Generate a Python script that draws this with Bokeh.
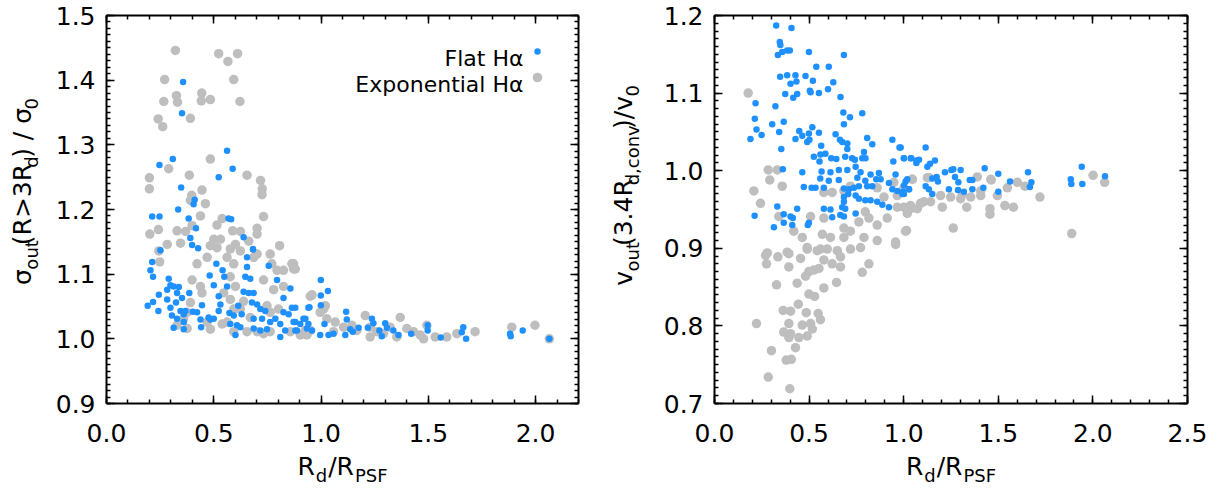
import math
from bokeh.plotting import figure
from bokeh.models import (Range1d, LinearAxis, Label, Legend, LegendItem,
                          FixedTicker, PrintfTickFormatter, CustomJSTickFormatter)
from bokeh.layouts import row, column
from bokeh.embed import file_html
from bokeh.resources import INLINE
from bokeh.core.properties import value

FONT = "DejaVu Sans"
BLUE = "#1E90FF"
GREY = "#BEBEBE"

# ---------------- data: left panel (sigma_out / sigma_0) ----------------
left_flat_x = [
    0.357, 0.352, 0.562, 0.309, 0.247, 0.588, 0.523, 0.348, 0.411, 0.406, 0.334, 0.213,
    0.247, 0.383, 0.569, 0.581, 0.417, 0.391, 0.639, 0.399, 0.251, 0.683, 0.427,
    0.213, 0.205, 0.217, 0.192, 0.217, 0.242, 0.244, 0.290, 0.298, 0.313, 0.337, 0.283,
    0.329, 0.352, 0.386, 0.283, 0.324, 0.298, 0.305, 0.345, 0.360, 0.368, 0.329, 0.313,
    0.360, 0.360, 0.402, 0.422, 0.438, 0.445, 0.441, 0.476, 0.484, 0.500, 0.523, 0.523,
    0.500, 0.481, 0.512, 0.541, 0.549, 0.562, 0.531, 0.573, 0.593, 0.577, 0.624, 0.601,
    0.608, 0.614, 0.630, 0.655, 0.655, 0.647, 0.683, 0.670, 0.639, 0.663, 0.686, 0.678,
    0.702, 0.686, 0.717, 0.740, 0.725, 0.686, 0.717, 0.748, 0.756, 0.795, 0.763, 0.787,
    0.810, 0.810, 0.833, 0.825, 0.864, 0.849, 0.857, 0.825, 0.872, 0.880, 0.903, 0.918,
    0.934, 0.941,
    0.999, 0.999, 1.032, 0.999, 0.946, 0.880, 0.927, 0.880, 0.941, 1.016, 1.117, 1.120,
    1.237, 1.244, 1.299, 1.307, 1.218, 1.175, 1.148, 1.136, 1.113, 1.058, 1.035, 0.996,
    0.958, 0.888, 1.272, 1.283, 1.337, 1.361, 1.420, 1.497, 1.497, 1.558, 1.663, 1.656,
    1.676, 1.881, 1.884, 1.940, 2.064,
]
left_flat_y = [
    1.397, 1.349, 1.291, 1.278, 1.269, 1.263, 1.250, 1.234, 1.215, 1.208, 1.200, 1.189,
    1.189, 1.186, 1.186, 1.185, 1.171, 1.156, 1.157, 1.145, 1.137, 1.139, 1.140,
    1.119, 1.106, 1.096, 1.051, 1.057, 1.043, 1.068, 1.093, 1.083, 1.081, 1.080, 1.076,
    1.071, 1.063, 1.071, 1.061, 1.056, 1.048, 1.036, 1.043, 1.038, 1.043, 1.031, 1.017,
    1.015, 1.026, 1.042, 1.041, 1.030, 1.052, 1.018, 1.033, 1.030, 1.031, 1.043, 1.066,
    1.083, 1.098, 1.116, 1.106, 1.096, 1.081, 1.053, 1.040, 1.036, 1.023, 1.018, 1.006,
    1.021, 1.051, 1.038, 1.111, 1.126, 1.096, 1.138, 1.093, 1.073, 1.071, 1.071, 1.056,
    1.053, 1.031, 1.046, 1.043, 1.031, 1.016, 1.013, 1.015, 1.113, 1.091, 1.026, 1.031,
    1.023, 1.003, 1.013, 1.041, 1.048, 1.038, 1.078, 1.063, 1.026, 1.013, 1.023, 1.031,
    1.016, 1.048,
    1.091, 1.067, 1.074, 1.052, 1.049, 1.048, 1.031, 1.026, 1.023, 1.023, 1.042, 1.030,
    1.031, 1.024, 1.024, 1.017, 1.017, 1.017, 1.011, 1.015, 1.006, 1.008, 1.006, 1.006,
    1.013, 1.013, 1.013, 1.004, 1.013, 1.006, 1.008, 1.021, 1.013, 1.002, 1.018, 1.010,
    1.000, 1.008, 1.004, 1.013, 1.000,
]
left_exp_x = [
    0.321, 0.523, 0.611, 0.566, 0.271, 0.593, 0.326, 0.267, 0.331, 0.444, 0.442, 0.484,
    0.622, 0.241, 0.262, 0.391, 0.484, 0.290, 0.386, 0.200, 0.200, 0.655, 0.718, 0.726,
    0.725, 0.445, 0.397, 0.391, 0.461, 0.438, 0.539, 0.515, 0.732, 0.202, 0.242, 0.329,
    0.369, 0.399, 0.588, 0.624, 0.663, 0.702, 0.702, 0.283, 0.345, 0.500, 0.531, 0.601,
    0.807, 0.484,
    0.248, 0.244, 0.399, 0.438, 0.445, 0.391, 0.360, 0.376, 0.422, 0.469, 0.515, 0.562,
    0.577, 0.593, 0.577, 0.601, 0.546, 0.577, 0.639, 0.624, 0.686, 0.702, 0.763, 0.771,
    0.795, 0.825, 0.872, 0.872, 0.825, 0.779, 0.732, 0.950, 0.469, 0.484, 0.539, 0.562,
    0.593, 0.655, 0.702, 0.732, 0.763, 0.802, 0.857, 0.903, 0.926, 0.934, 0.624, 0.593,
    0.670, 0.748, 0.763, 0.376, 0.329,
    0.864, 0.880, 0.958, 1.012, 1.020, 0.996, 1.027, 1.066, 1.105, 1.144, 1.206, 1.229,
    1.260, 1.322, 1.369, 1.400, 1.431, 1.462, 1.493, 1.478, 1.532, 1.586, 1.633, 1.718,
    1.889, 1.997, 2.064, 1.167, 1.058, 0.950, 1.291, 1.353, 1.229,
]
left_exp_y = [
    1.446, 1.441, 1.441, 1.429, 1.401, 1.401, 1.376, 1.367, 1.366, 1.380, 1.368, 1.370,
    1.367, 1.340, 1.328, 1.341, 1.278, 1.263, 1.253, 1.249, 1.232, 1.253, 1.245, 1.232,
    1.223, 1.230, 1.222, 1.214, 1.209, 1.190, 1.186, 1.176, 1.189, 1.162, 1.169, 1.167,
    1.166, 1.175, 1.167, 1.166, 1.151, 1.171, 1.162, 1.146, 1.148, 1.154, 1.154, 1.146,
    1.144, 1.144,
    1.119, 1.136, 1.091, 1.081, 1.071, 1.056, 1.031, 1.041, 1.116, 1.126, 1.141, 1.126,
    1.139, 1.116, 1.096, 1.081, 1.071, 1.061, 1.058, 1.136, 1.126, 1.131, 1.131, 1.116,
    1.106, 1.106, 1.108, 1.116, 1.081, 1.076, 1.091, 1.066, 1.026, 1.015, 1.023, 1.026,
    1.011, 1.011, 1.011, 1.008, 1.011, 1.046, 1.011, 1.006, 1.013, 1.006, 1.046, 1.046,
    1.033, 1.051, 1.041, 1.016, 1.021,
    1.116, 1.108, 1.068, 1.046, 1.051, 1.041, 1.031, 1.026, 1.018, 1.021, 1.036, 1.018,
    1.011, 1.018, 1.033, 1.016, 1.011, 1.006, 1.021, 1.000, 1.003, 1.003, 1.008, 1.011,
    1.018, 1.021, 1.000, 1.013, 1.011, 1.013, 1.008, 1.003, 1.003,
]

# ---------------- data: right panel (v_out / v_0) ----------------
right_flat_x = [
    0.326, 0.407, 0.345, 0.348, 0.335, 0.358, 0.384, 0.398, 0.499, 0.684, 0.347, 0.384,
    0.428, 0.481, 0.538, 0.604, 0.402, 0.433, 0.520, 0.628, 0.600, 0.504, 0.508, 0.552,
    0.374, 0.437, 0.416, 0.666, 0.217, 0.322, 0.681, 0.781, 0.716, 0.213, 0.366, 0.305,
    0.684, 0.222, 0.517, 0.448, 0.342, 0.499, 0.552, 0.640, 0.249, 0.464, 0.190, 0.428,
    0.502, 0.490, 0.663, 0.675, 0.702, 0.807, 0.834, 0.940, 0.978, 0.564, 0.353, 0.702,
    0.525, 0.560, 0.586, 0.617, 0.644, 0.691, 0.727, 0.742, 0.790, 0.781, 0.798, 1.001,
    1.037, 1.068, 0.945, 0.555, 0.746, 0.361, 0.464, 0.566, 0.613, 0.657, 0.702, 0.772,
    0.825, 0.869, 0.957, 0.559, 0.604, 0.657, 0.755, 0.797, 0.855, 0.878, 0.922, 1.010,
    0.513, 0.534, 0.472, 0.578, 0.684, 0.710, 0.737, 0.763, 0.807, 0.834, 0.940, 0.966,
    0.996, 1.028, 1.001, 0.707, 0.746, 0.763, 0.684, 0.797, 0.825, 0.860, 0.887, 0.922,
    0.684, 0.675, 0.691, 0.578, 0.613, 0.665, 0.684, 0.622, 0.746, 0.437, 0.332, 0.366,
    0.402, 0.212, 0.414, 0.366, 0.314, 0.411, 0.493, 0.499,
    0.984, 1.116, 1.001, 1.040, 1.067, 1.081, 1.165, 1.125, 1.139, 1.218, 1.252, 1.262,
    1.301, 1.428, 1.500, 1.657, 1.941, 1.019, 1.001, 1.028, 1.151, 1.174, 1.181, 1.271,
    1.289, 1.349, 1.363, 1.116, 1.133, 1.151, 1.239, 1.287, 1.318, 1.363, 1.421, 1.500,
    1.562, 1.675, 1.667, 1.883, 1.886, 1.944, 2.064, 0.993,
]
right_flat_y = [
    1.187, 1.184, 1.166, 1.162, 1.149, 1.153, 1.155, 1.155, 1.153, 1.149, 1.121, 1.123,
    1.123, 1.122, 1.134, 1.134, 1.112, 1.115, 1.116, 1.114, 1.105, 1.103, 1.101, 1.100,
    1.099, 1.099, 1.094, 1.095, 1.087, 1.083, 1.075, 1.074, 1.069, 1.067, 1.063, 1.060,
    1.060, 1.053, 1.056, 1.051, 1.050, 1.048, 1.049, 1.047, 1.046, 1.045, 1.041, 1.041,
    1.040, 1.037, 1.040, 1.037, 1.035, 1.042, 1.034, 1.040, 1.030, 1.032, 1.028, 1.028,
    1.018, 1.021, 1.022, 1.016, 1.015, 1.018, 1.016, 1.014, 1.024, 1.016, 1.016, 1.016,
    1.016, 1.013, 1.012, 1.012, 1.005, 1.002, 0.998, 0.999, 0.998, 1.001, 1.001, 0.998,
    0.995, 0.997, 0.995, 0.990, 0.987, 0.988, 0.991, 0.987, 0.989, 0.989, 0.984, 0.986,
    0.978, 0.978, 0.979, 0.978, 0.977, 0.976, 0.978, 0.980, 0.980, 0.980, 0.976, 0.974,
    0.973, 0.976, 0.970, 0.970, 0.968, 0.964, 0.966, 0.962, 0.962, 0.960, 0.956, 0.953,
    0.960, 0.953, 0.951, 0.951, 0.950, 0.943, 0.941, 0.940, 0.945, 0.951, 0.954, 0.944,
    0.941, 0.942, 0.939, 0.933, 0.927, 0.930, 0.930, 0.933,
    1.030, 1.030, 1.016, 1.016, 1.010, 1.014, 1.013, 1.005, 1.009, 0.998, 1.001, 1.002,
    1.001, 1.003, 0.996, 0.998, 1.005, 0.989, 0.981, 0.976, 0.990, 0.992, 0.986, 0.992,
    0.985, 0.988, 0.988, 0.980, 0.976, 0.970, 0.976, 0.975, 0.973, 0.976, 0.978, 0.973,
    0.986, 0.985, 0.979, 0.989, 0.983, 0.983, 0.993, 0.970,
]
right_exp_x = [
    0.178, 0.284, 0.332, 0.292, 0.358, 0.208, 0.243, 0.340, 0.419, 0.508, 0.578, 0.464,
    0.570, 0.613, 0.684, 0.718, 0.763, 0.797, 0.816, 0.860, 0.913, 0.966, 1.001, 1.037,
    1.046, 1.001, 0.966, 0.948, 0.860, 0.896, 0.718, 0.684, 0.622, 0.578, 0.860, 0.957,
    1.010, 0.684, 0.790, 0.384, 0.279, 0.490, 0.543, 0.596, 0.649,
    0.270, 0.275, 0.335, 0.393, 0.393, 0.455, 0.490, 0.560, 0.578, 0.622, 0.666, 0.666,
    0.719, 0.772, 0.816, 0.781, 0.957, 0.328, 0.437, 0.481, 0.499, 0.525, 0.552, 0.578,
    0.645, 0.499, 0.529, 0.443, 0.363, 0.402, 0.485, 0.548, 0.560, 0.222, 0.393, 0.464,
    0.508, 0.517, 0.366, 0.402, 0.393, 0.446, 0.490, 0.301, 0.428, 0.379, 0.406, 0.284,
    0.398,
    1.045, 1.133, 1.389, 1.463, 1.548, 1.601, 1.641, 1.720, 1.495, 1.456, 1.456, 1.535,
    1.580, 1.333, 1.262, 1.888, 2.001, 2.062, 1.015, 1.125, 1.195, 1.248, 1.301, 1.354,
    1.407, 1.204, 1.142, 1.089, 1.036, 1.019, 1.072, 1.107, 1.310, 1.407, 1.460,
]
right_exp_y = [
    1.100, 1.001, 1.001, 0.988, 0.980, 0.974, 0.958, 0.941, 0.922, 0.941, 0.939, 0.914,
    0.918, 0.914, 0.926, 0.922, 0.934, 0.947, 0.939, 0.930, 0.939, 0.953, 0.953, 0.951,
    0.989, 0.978, 0.968, 0.985, 0.978, 0.966, 0.980, 0.974, 0.972, 0.972, 0.910, 0.908,
    0.922, 0.914, 0.914, 0.895, 0.894, 0.901, 0.897, 0.899, 0.897,
    0.891, 0.880, 0.889, 0.893, 0.876, 0.887, 0.899, 0.899, 0.885, 0.880, 0.889, 0.876,
    0.899, 0.901, 0.880, 0.869, 0.905, 0.853, 0.855, 0.864, 0.870, 0.872, 0.874, 0.849,
    0.856, 0.841, 0.838, 0.828, 0.820, 0.819, 0.817, 0.816, 0.808, 0.803, 0.803, 0.801,
    0.803, 0.796, 0.792, 0.790, 0.785, 0.785, 0.787, 0.768, 0.772, 0.756, 0.757, 0.734,
    0.719,
    0.989, 0.991, 0.992, 0.988, 0.978, 0.985, 0.980, 0.966, 0.968, 0.951, 0.944, 0.955,
    0.953, 0.953, 0.926, 0.919, 0.994, 0.985, 0.923, 0.991, 0.968, 0.966, 0.964, 0.966,
    0.968, 0.953, 0.960, 0.958, 0.955, 0.945, 0.951, 0.960, 0.970, 0.974, 0.989,
]

# ---------------- axes / labels ----------------
left_x_range = (0.0, 2.2)
left_y_range = (0.9, 1.5)
right_x_range = (0.0, 2.5)
right_y_range = (0.7, 1.2)
left_x_major = [0.0, 0.5, 1.0, 1.5, 2.0]
left_y_major = [0.9, 1.0, 1.1, 1.2, 1.3, 1.4, 1.5]
right_x_major = [0.0, 0.5, 1.0, 1.5, 2.0, 2.5]
right_y_major = [0.7, 0.8, 0.9, 1.0, 1.1, 1.2]
series_names = ["Flat H\u03b1", "Exponential H\u03b1"]
x_title_parts = [("R", False), ("d", True), ("/R", False), ("PSF", True)]
left_y_title_parts = [("\u03c3", False), ("out", True), ("(R>3R", False), ("d", True),
                      (") / \u03c3", False), ("0", True)]
right_y_title_parts = [("v", False), ("out", True), ("(3.4R", False), ("d,conv", True),
                       (")/v", False), ("0", True)]

# DejaVu Sans advance widths (em) used to chain title pieces
W = {'R': .695, 'd': .635, '/': .337, 'P': .603, 'S': .635, 'F': .575, '(': .39,
     ')': .39, '>': .838, '3': .636, '4': .636, '0': .636, '.': .318, ',': .318,
     ' ': .318, 'o': .612, 'u': .634, 't': .392, 'c': .55, 'n': .634, 'v': .592,
     '\u03c3': .634}
MAIN, SUB = 25, 18
GAP = 3.0
DROP = 6
MID = 0.35   # distance baseline -> middle of em box, in em

# layout geometry (pixels)
ROW_H = 450
FT, FH = 15, 388            # frame top border and frame height
YL1_W, P1_W = 52, 548
YL2_W, P2_W = 60, 547
XL_H = 41
TOTAL_W = YL1_W + P1_W + YL2_W + P2_W


def tw(s, size):
    return sum(W.get(ch, .6) for ch in s) * size


def minor(lo, hi, step):
    n = int(round((hi - lo) / step))
    return [round(lo + i * step, 4) for i in range(n + 1)]


def style_axis(ax, ticker, labels, standoff):
    ax.ticker = ticker
    ax.axis_label = None
    ax.axis_line_width = 2
    ax.axis_line_color = "black"
    ax.major_tick_in = 8
    ax.major_tick_out = 0
    ax.minor_tick_in = 4
    ax.minor_tick_out = 0
    ax.major_tick_line_width = 1.5
    ax.minor_tick_line_width = 1.5
    ax.major_tick_line_color = "black"
    ax.minor_tick_line_color = "black"
    ax.major_label_text_font = FONT
    ax.major_label_text_color = "black"
    if labels:
        ax.formatter = PrintfTickFormatter(format="%.1f")
        ax.major_label_text_font_size = "25px"
        ax.major_label_standoff = standoff
    else:
        ax.formatter = CustomJSTickFormatter(code="return ''")
        ax.major_label_text_font_size = "0px"
        ax.major_label_standoff = 0


def make_panel(xr, yr, xmaj, ymaj, fw, bl, br):
    p = figure(frame_width=fw, frame_height=FH, x_range=Range1d(*xr), y_range=Range1d(*yr),
               output_backend="svg", toolbar_location=None,
               min_border_left=bl, min_border_right=br, min_border_top=FT,
               min_border_bottom=ROW_H - FT - FH)
    p.grid.visible = False
    p.outline_line_color = None
    xt = FixedTicker(ticks=xmaj, minor_ticks=minor(xr[0], xr[1], 0.1))
    yt = FixedTicker(ticks=ymaj, minor_ticks=minor(yr[0], yr[1], 0.01))
    style_axis(p.xaxis[0], xt, True, 20)
    style_axis(p.yaxis[0], yt, True, 11)
    top = LinearAxis()
    right = LinearAxis()
    style_axis(top, xt, False, 0)
    style_axis(right, yt, False, 0)
    p.add_layout(top, "above")
    p.add_layout(right, "right")
    return p


def text_fig(w, h):
    f = figure(width=w, height=h, x_range=Range1d(0, w), y_range=Range1d(0, h),
               output_backend="svg", toolbar_location=None, min_border=0,
               x_axis_location=None, y_axis_location=None)
    f.grid.visible = False
    f.outline_line_color = None
    return f


def put(f, h, x, y_screen, t, size, angle=0.0, align="left"):
    f.text(x=[x], y=[h - y_screen], text=[t], angle=angle, text_font=value(FONT),
           text_font_size=value(f"{size}px"), text_align=align,
           text_baseline="middle", text_color="black")


def span(parts, gap):
    return sum(tw(t, SUB if s else MAIN) for t, s in parts) + gap * (len(parts) - 1)


def x_title(f, h, cx, base_y):
    pos = cx - span(x_title_parts, 1.0) / 2
    for t, s in x_title_parts:
        size = SUB if s else MAIN
        base = base_y + (6 if s else 0)
        put(f, h, pos, base - MID * size, t, size)
        pos += tw(t, size) + 1.0


def y_title(f, h, parts, base_x, cy):
    # each piece is centred on its own box so that rotation keeps it in place
    pos = cy + span(parts, GAP) / 2
    for t, s in parts:
        size = SUB if s else MAIN
        w = tw(t, size)
        bx = base_x + (DROP if s else 0)
        put(f, h, bx - MID * size, pos - w / 2, t, size, angle=math.pi / 2,
            align="center")
        pos -= w + GAP


# ---------------- left panel ----------------
p1 = make_panel(left_x_range, left_y_range, left_x_major, left_y_major, 472, 54, 22)
r_exp1 = p1.scatter(left_exp_x, left_exp_y, size=9.5, color=GREY, line_color=None)
r_flat1 = p1.scatter(left_flat_x, left_flat_y, size=6.5, color=BLUE, line_color=None)

for name, dy in zip(series_names, (-43, -69)):
    p1.add_layout(Label(x=left_x_range[1], y=left_y_range[1], x_offset=-55, y_offset=dy,
                        text=name, text_font=FONT, text_font_size="22px",
                        text_align="right", text_baseline="alphabetic",
                        text_color="black"))
for rend, box, cy_top in ((r_flat1, 16, 35.7), (r_exp1, 24, 61.7)):
    vx = 431 - box / 2
    vy = FH - cy_top - box / 2
    lg = Legend(items=[LegendItem(label=" ", renderers=[rend])], location=(vx, vy),
                glyph_width=box, glyph_height=box, label_height=box, label_width=0,
                label_standoff=0, padding=0, margin=0, spacing=0,
                border_line_color=None, background_fill_alpha=0,
                label_text_font_size="1px")
    p1.add_layout(lg)

# ---------------- right panel ----------------
p2 = make_panel(right_x_range, right_y_range, right_x_major, right_y_major, 473, 54, 20)
p2.scatter(right_exp_x, right_exp_y, size=9.5, color=GREY, line_color=None)
p2.scatter(right_flat_x, right_flat_y, size=6.5, color=BLUE, line_color=None)

# ---------------- axis titles (text strips next to the panels) ----------------
yl1 = text_fig(YL1_W, ROW_H)
y_title(yl1, ROW_H, left_y_title_parts, 31, 204)
yl2 = text_fig(YL2_W, ROW_H)
y_title(yl2, ROW_H, right_y_title_parts, 32, 197)
xl = text_fig(TOTAL_W, XL_H)
x_title(xl, XL_H, 342, 25)
x_title(xl, XL_H, 950.5, 25)

layout = column(row(yl1, p1, yl2, p2), xl)
open("out.html", "w").write(file_html(layout, INLINE))
